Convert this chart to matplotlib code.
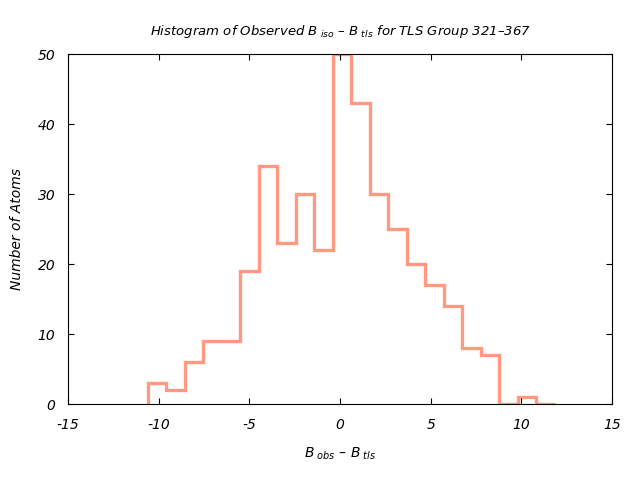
import matplotlib
matplotlib.use("Agg")
import matplotlib.pyplot as plt

plt.rcParams['font.family'] = ['DejaVu Sans']
plt.rcParams['font.style'] = 'italic'
plt.rcParams['mathtext.fontset'] = 'custom'
plt.rcParams['mathtext.it'] = 'DejaVu Sans:italic'
plt.rcParams['mathtext.rm'] = 'DejaVu Sans:italic'
plt.rcParams['mathtext.default'] = 'it'
plt.rcParams['axes.unicode_minus'] = False

bin_edges = [-10.59, -9.57, -8.55, -7.53, -6.51, -5.49, -4.47, -3.45, -2.43,
             -1.41, -0.39, 0.63, 1.65, 2.67, 3.69, 4.71, 5.73, 6.75, 7.77,
             8.79, 9.81, 10.83, 11.85]
counts = [3, 2, 6, 9, 9, 19, 34, 23, 30, 22, 50, 43, 30, 25, 20, 17, 14, 8, 7, 0, 1, 0]
x_ticks = [-15, -10, -5, 0, 5, 10, 15]
y_ticks = [0, 10, 20, 30, 40, 50]

fig = plt.figure(figsize=(6.4, 4.8), dpi=100)
ax = fig.add_axes([68/640, 76/480, 544/640, 350/480])
ax.stairs(counts, bin_edges, baseline=0, color='#ff9a80', linewidth=2.4)
ax.set_xlim(-15, 15)
ax.set_ylim(0, 50)
ax.set_xticks(x_ticks)
ax.set_yticks(y_ticks)
ax.tick_params(direction='in', top=True, right=True, labelsize=10, length=4)
ax.tick_params(axis='x', pad=10)
ax.tick_params(axis='y', pad=9)
for lab in ax.get_xticklabels() + ax.get_yticklabels():
    lab.set_style('italic')
ax.set_title(r"Histogram of Observed B$_{\ iso}$ – B$_{\ tls}$ for TLS Group 321–367",
             fontsize=9.5, pad=14)
ax.set_xlabel(r"B$_{\ obs}$ – B$_{\ tls}$", fontsize=10, labelpad=10)
ax.set_ylabel("Number of Atoms", fontsize=10, labelpad=10)
fig.savefig("out.png", dpi=100)
